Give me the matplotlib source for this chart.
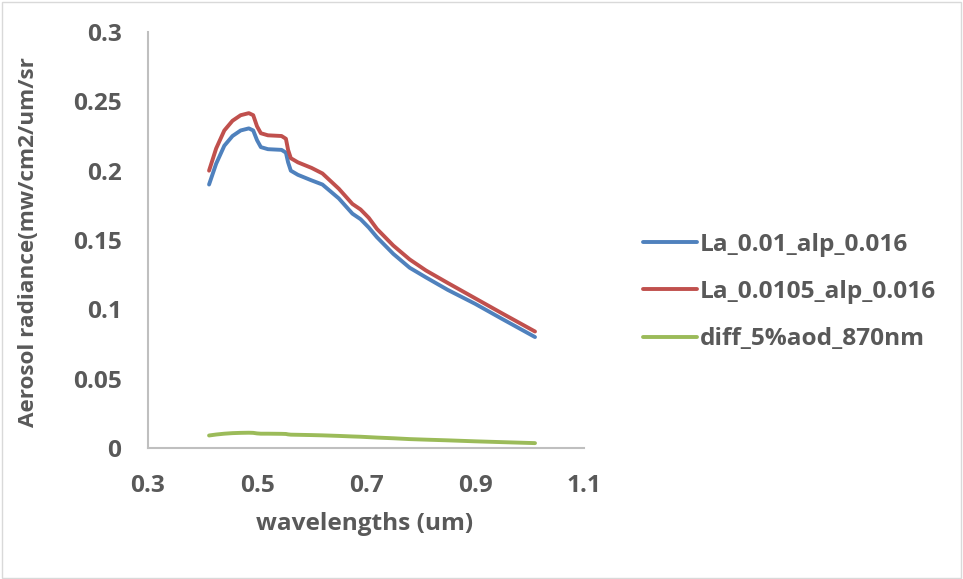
#!/usr/bin/env python3
"""Aerosol radiance vs wavelength, Excel-style line chart."""

import matplotlib
matplotlib.use('Agg')
import matplotlib.pyplot as plt

wavelengths = [0.412, 0.425, 0.44, 0.455, 0.47, 0.485, 0.493, 0.50, 0.507, 0.52,
               0.545, 0.553, 0.557, 0.562, 0.575, 0.60, 0.62, 0.65, 0.675, 0.69,
               0.705, 0.72, 0.75, 0.78, 0.81, 0.85, 0.90, 0.95, 1.01]
la_001 = [0.190, 0.205, 0.218, 0.225, 0.229, 0.2305, 0.229, 0.222, 0.217, 0.2155,
          0.2150, 0.213, 0.206, 0.200, 0.197, 0.193, 0.190, 0.180, 0.169, 0.165,
          0.159, 0.152, 0.140, 0.130, 0.123, 0.114, 0.104, 0.093, 0.080]
la_00105 = [0.200, 0.216, 0.229, 0.236, 0.240, 0.2415, 0.240, 0.232, 0.227, 0.2255,
            0.2250, 0.223, 0.215, 0.209, 0.206, 0.202, 0.198, 0.187, 0.176, 0.172,
            0.166, 0.158, 0.146, 0.136, 0.128, 0.119, 0.108, 0.097, 0.084]
diff_5pct = [0.0090, 0.0097, 0.0103, 0.0107, 0.0109, 0.0110, 0.0109, 0.0105, 0.0103, 0.0103,
             0.0102, 0.0101, 0.0098, 0.0096, 0.0095, 0.0093, 0.0091, 0.0087, 0.0083, 0.0081,
             0.0078, 0.0075, 0.0070, 0.0064, 0.0060, 0.0055, 0.0048, 0.0042, 0.0035]

series_names = ['La_0.01_alp_0.016', 'La_0.0105_alp_0.016', 'diff_5%aod_870nm']
series_colors = ['#4F81BD', '#C0504D', '#9BBB59']

x_ticks = [0.3, 0.5, 0.7, 0.9, 1.1]
y_ticks = [0, 0.05, 0.1, 0.15, 0.2, 0.25, 0.3]

plt.rcParams['font.family'] = ['Open Sans', 'DejaVu Sans']
text_color = '#595959'
axis_color = '#BFBFBF'
fsize = 17.6

fig = plt.figure(figsize=(9.63, 5.79), dpi=100)
fig.patches.append(plt.Rectangle((0.002, 0.002), 0.996, 0.995, transform=fig.transFigure,
                                 fill=False, edgecolor='#D9D9D9', linewidth=1))
ax = fig.add_axes([0.1537, 0.2263, 0.4528, 0.7184])

for values, name, color in zip([la_001, la_00105, diff_5pct], series_names, series_colors):
    ax.plot(wavelengths, values, color=color, linewidth=2.8, label=name,
            solid_capstyle='round', solid_joinstyle='round')

ax.set_xlim(0.3, 1.1)
ax.set_ylim(0, 0.3)
ax.set_xticks(x_ticks)
ax.set_xticklabels([f'{t:g}' for t in x_ticks])
ax.set_yticks(y_ticks)
ax.set_yticklabels([f'{t:g}' for t in y_ticks])
ax.tick_params(axis='y', length=0, pad=19, labelsize=fsize, labelcolor=text_color)
ax.tick_params(axis='x', length=0, pad=19, labelsize=fsize, labelcolor=text_color)
for lbl in ax.get_xticklabels() + ax.get_yticklabels():
    lbl.set_fontweight('bold')

for side in ['top', 'right']:
    ax.spines[side].set_visible(False)
for side in ['left', 'bottom']:
    ax.spines[side].set_color(axis_color)
    ax.spines[side].set_linewidth(1.5)

fig.text(365 / 963, 1 - 524 / 579, 'wavelengths (um)', ha='center', va='center',
         fontsize=fsize, fontweight='bold', color=text_color)
fig.text(29 / 963, 1 - 242 / 579, 'Aerosol radiance(mw/cm2/um/sr', ha='center', va='center',
         rotation=90, fontsize=16.2, fontweight='bold', color=text_color)

leg = fig.legend(loc='center left', bbox_to_anchor=(643 / 963, 1 - 292 / 579), frameon=False,
                 fontsize=fsize, handlelength=2.2, handletextpad=0.12, labelspacing=0.96,
                 borderpad=0, borderaxespad=0)
for text in leg.get_texts():
    text.set_color(text_color)
    text.set_fontweight('bold')

fig.savefig('out.png', dpi=100)
